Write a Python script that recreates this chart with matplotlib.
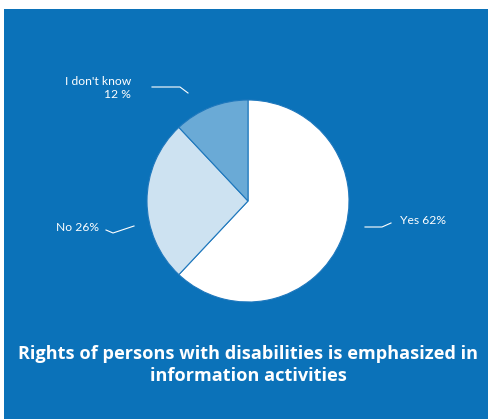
import matplotlib
matplotlib.use("Agg")
import matplotlib.pyplot as plt

labels = ["Yes", "No", "I don't know"]
values = [62, 26, 12]
label_texts = ["Yes 62%", "No 26%", "I don't know\n12 %"]
colors = ["#ffffff", "#cde2f1", "#6aaad6"]
title = "Rights of persons with disabilities is emphasized in\ninformation activities"

bg = "#0b72b9"
W, H = 488, 419

fig = plt.figure(figsize=(W / 100, H / 100), dpi=100)
fig.patch.set_facecolor("white")

# blue panel as a background axes
bax = fig.add_axes([4 / W, 0, 1 - 4 / W, 1 - 9 / H], zorder=0)
bax.set_facecolor(bg)
bax.set_xticks([])
bax.set_yticks([])
for s in bax.spines.values():
    s.set_visible(False)

# pie axes: center (248, 201), radius 101 px
cx, cy, r = 248, 201, 101
ax = fig.add_axes([(cx - r) / W, 1 - (cy + r) / H, 2 * r / W, 2 * r / H], zorder=2)
ax.pie(values, colors=colors, startangle=90, counterclock=False,
       wedgeprops=dict(edgecolor="#1f78bd", linewidth=0.8))
ax.set_xlim(-1, 1)
ax.set_ylim(-1, 1)
ax.set_aspect("equal")
ax.axis("off")


def px(x, y):
    return x / W, 1 - y / H


lab_font = dict(color="white", fontsize=8.7, family="Lato")

# leader lines (figure pixel coords)
lines = [
    [(365, 227), (382, 227), (391, 223)],
    [(106, 230), (113, 233), (134, 226)],
    [(152, 87), (180, 87), (188, 93)],
]
for pts in lines:
    xs = [px(*p)[0] for p in pts]
    ys = [px(*p)[1] for p in pts]
    fig.add_artist(plt.Line2D(xs, ys, color="white", linewidth=0.8,
                              transform=fig.transFigure, zorder=3))

fig.text(*px(400, 220), label_texts[0], ha="left", va="center", **lab_font)
fig.text(*px(99, 227), label_texts[1], ha="right", va="center", **lab_font)
fig.text(*px(131, 88), label_texts[2], ha="right", va="center",
         linespacing=1.25, multialignment="right", **lab_font)

fig.text(*px(248, 365), title, ha="center", va="center", color="white",
         fontsize=13.1, fontweight="bold", family="Open Sans", linespacing=1.3)

fig.savefig("out.png", dpi=100, facecolor=fig.get_facecolor())
